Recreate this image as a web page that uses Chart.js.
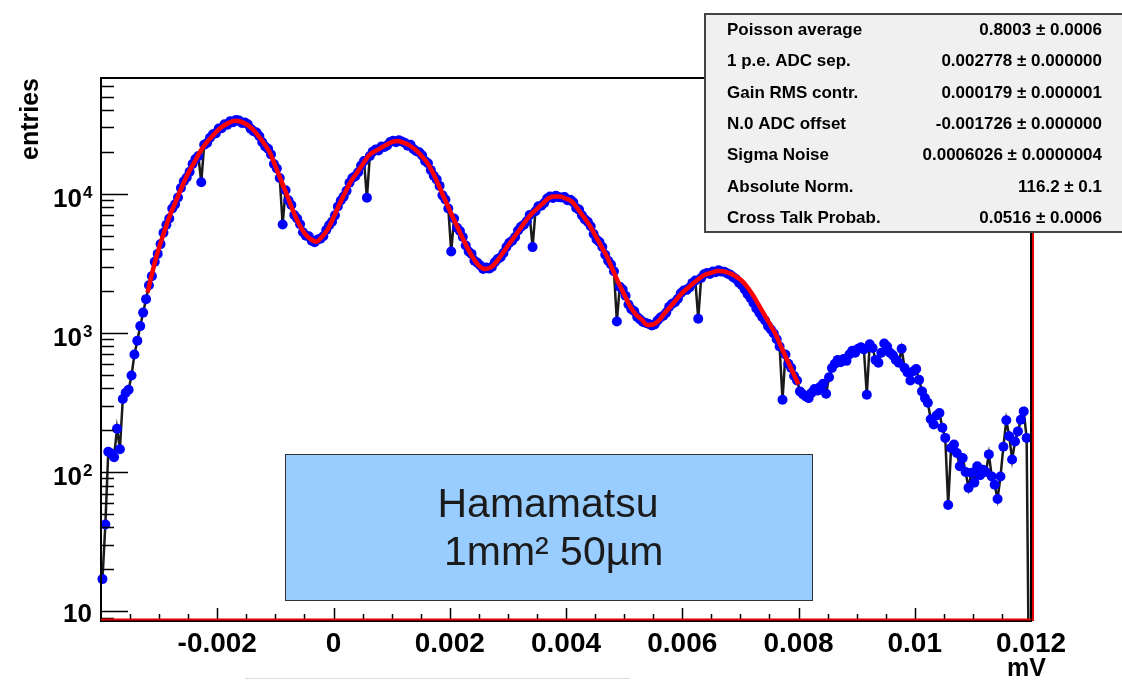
<!DOCTYPE html>
<html lang="en">
<head>
<meta charset="UTF-8">
<title>Hamamatsu 1mm2 50um - fitted photoelectron spectrum</title>
<script src="https://cdn.jsdelivr.net/npm/chart.js"></script>
<style>
    body { margin: 0; background: #ffffff; }
    #wrap { width: 1122px; height: 680px; position: relative; }
</style>
</head>
<body>
<div id="wrap"><canvas id="spectrum" width="1122" height="680"></canvas></div>
<script>
// histogram binning in mV
const binLow = -0.004;
const binWidth = 0.00005;

// entries per bin (log scale)
const entries = [
    17, 42, 140, 136, 128, 205, 146, 335, 372, 390,
    495, 700, 880, 1120, 1400, 1750, 2200, 2560, 3250, 3700,
    4350, 5250, 6000, 6650, 7850, 8400, 9400, 11000, 12300, 13100,
    14400, 16400, 17800, 18700, 12100, 22500, 23200, 25300, 26800, 27200,
    29500, 29600, 31600, 31400, 33300, 32700, 34000, 33600, 32300, 32500,
    31600, 29400, 28200, 27600, 25900, 23500, 21900, 21100, 19200, 16400,
    15200, 13000, 6020, 10600, 9000, 8300, 7050, 6650, 6050, 5300,
    5000, 4950, 4600, 4480, 4700, 4750, 4950, 5500, 5950, 6300,
    7000, 8100, 8950, 9550, 10500, 12000, 13000, 13400, 14300, 16000,
    17200, 9360, 18700, 20100, 20800, 20500, 21900, 21700, 22300, 23600,
    24100, 23500, 24300, 23800, 23300, 22200, 22500, 21000, 20200, 19900,
    18900, 17200, 16600, 14800, 13500, 12700, 11400, 9750, 9100, 7850,
    3850, 6650, 5700, 5400, 4900, 4250, 3850, 3700, 3300, 3200,
    3050, 2880, 2950, 2900, 2980, 3220, 3400, 3500, 3750, 4150,
    4450, 4600, 4900, 5450, 5800, 6000, 6350, 7050, 4140, 7500,
    8150, 8200, 8600, 9250, 9550, 9350, 9700, 9450, 9400, 9500,
    9000, 9050, 8700, 7900, 7700, 7000, 6550, 6300, 5850, 5150,
    4700, 4500, 4150, 3650, 3300, 3100, 2780, 1210, 2150, 2050,
    1850, 1600, 1480, 1430, 1300, 1250, 1200, 1180, 1160, 1130,
    1150, 1230, 1290, 1330, 1400, 1540, 1620, 1660, 1760, 1930,
    2020, 2040, 2120, 2290, 2380, 1265, 2480, 2640, 2700, 2650,
    2760, 2730, 2820, 2760, 2750, 2680, 2620, 2520, 2440, 2300,
    2200, 2050, 1900, 1780, 1640, 1500, 1400, 1300, 1230, 1120,
    1060, 990, 900, 800, 331, 700, 600, 560, 490, 455,
    380, 362, 350, 340, 372, 395, 385, 410, 432, 365,
    480, 560, 600, 640, 615, 650, 630, 700, 745, 720,
    770, 790, 760, 360, 830, 780, 640, 610, 720, 840,
    800, 720, 690, 640, 610, 770, 560, 520, 455, 530,
    550, 460, 380, 340, 315, 240, 220, 255, 266, 208,
    176, 58, 149, 158, 137, 110, 126, 100, 77, 99,
    84, 110, 95, 104, 100, 134, 93, 81, 64, 93,
    152, 236, 181, 123, 166, 196, 238, 273, 176, 1
];

// fitted function, sampled every 0.0001 mV from -0.0032 to 0.008
const fitLow = -0.0032;
const fitStep = 0.0001;
const fitValues = [
    1950, 2910, 4120, 5510, 7260, 9080, 11430, 14060, 16710, 19910,
    22960, 25530, 28380, 30620, 32360, 33500, 33110, 31620, 29380, 26300,
    23170, 19950, 15850, 12450, 9770, 7600, 6140, 5220, 4740, 4520,
    4900, 5550, 6760, 8370, 10210, 12300, 14130, 16260, 18710, 20090,
    21180, 22390, 23500, 23990, 23330, 22390, 20890, 19050, 16980, 14450,
    11750, 9440, 7590, 6170, 5010, 4120, 3470, 3050, 2880, 2950,
    3240, 3690, 4230, 4830, 5520, 6310, 7130, 7800, 8510, 9290,
    9550, 9550, 9230, 8810, 7830, 6850, 6000, 5050, 4250, 3570,
    2870, 2310, 1900, 1560, 1360, 1250, 1140, 1150, 1230, 1390,
    1550, 1740, 1940, 2110, 2290, 2480, 2630, 2700, 2790, 2780,
    2700, 2580, 2420, 2190, 1910, 1630, 1380, 1170, 990, 798,
    646, 525, 427
];

const xTickValues = [-0.002, 0, 0.002, 0.004, 0.006, 0.008, 0.01, 0.012];
const xTickLabels = ['-0.002', '0', '0.002', '0.004', '0.006', '0.008', '0.01', '0.012'];
const yTickValues = [10, 100, 1000, 10000];
const yTickPowers = ['', '2', '3', '4'];

const statNames = ['Poisson average', '1 p.e. ADC sep.', 'Gain RMS contr.', 'N.0 ADC offset',
    'Sigma Noise', 'Absolute Norm.', 'Cross Talk Probab.'];
const statValues = ['0.8003 \u00b1 0.0006', '0.002778 \u00b1 0.000000', '0.000179 \u00b1 0.000001',
    '-0.001726 \u00b1 0.000000', '0.0006026 \u00b1 0.0000004', '116.2 \u00b1 0.1', '0.0516 \u00b1 0.0006'];

const boxLines = ['Hamamatsu', ' 1mm\u00b2 50\u00b5m'];

const FONT = '"Liberation Sans", Arial, Helvetica, sans-serif';

// ROOT-like frame: ticks inside the frame, labels, stats box and caption box
const rootStyle = {
    id: 'rootStyle',
    afterDatasetsDraw(chart) {
        const { ctx, chartArea: a } = chart;
        const xs = chart.scales.x, ys = chart.scales.y;
        ctx.save();

        // y ticks (decades long, 2..9 short)
        ctx.strokeStyle = '#000';
        ctx.lineWidth = 1.5;
        ctx.beginPath();
        for (let d = 1; d <= 10000; d *= 10) {
            for (let m = 1; m <= 9; m++) {
                const v = m * d;
                if (v < ys.min || v > ys.max) continue;
                const py = Math.round(ys.getPixelForValue(v)) + 0.5;
                ctx.moveTo(a.left, py);
                ctx.lineTo(a.left + (m === 1 ? 27 : 13), py);
            }
        }
        // x ticks every 0.0005, longer every 0.002
        for (let i = 1; i < 32; i++) {
            const v = -0.004 + i * 0.0005;
            const px = Math.round(xs.getPixelForValue(v)) + 0.5;
            ctx.moveTo(px, a.bottom);
            ctx.lineTo(px, a.bottom - (i % 4 === 0 ? 13 : 7));
        }
        ctx.stroke();

        // frame
        ctx.lineWidth = 2;
        ctx.strokeRect(a.left, a.top, a.right - a.left, a.bottom - a.top);
        ctx.strokeStyle = '#e00000';
        ctx.beginPath();
        ctx.moveTo(a.left, a.bottom - 1.5);
        ctx.lineTo(a.right, a.bottom - 1.5);
        ctx.moveTo(a.right + 2, a.top);
        ctx.lineTo(a.right + 2, a.bottom);
        ctx.stroke();

        // x tick labels
        ctx.fillStyle = '#000';
        ctx.font = 'bold 28px ' + FONT;
        ctx.textAlign = 'center';
        ctx.textBaseline = 'alphabetic';
        xTickValues.forEach((v, i) => {
            ctx.fillText(xTickLabels[i], xs.getPixelForValue(v), a.bottom + 31);
        });

        // y tick labels 10^n
        yTickValues.forEach((v, i) => {
            const py = ys.getPixelForValue(v);
            if (yTickPowers[i] === '') {
                ctx.font = 'bold 26px ' + FONT;
                ctx.textAlign = 'right';
                ctx.fillText('10', 92, py + 11);
            } else {
                ctx.font = 'bold 26px ' + FONT;
                ctx.textAlign = 'right';
                ctx.fillText('10', 82, py + 13);
                ctx.font = 'bold 17px ' + FONT;
                ctx.textAlign = 'left';
                ctx.fillText(yTickPowers[i], 83, py + 4);
            }
        });

        // axis titles
        ctx.font = 'bold 25px ' + FONT;
        ctx.textAlign = 'right';
        ctx.fillText('mV', 1046, 676);
        ctx.save();
        ctx.translate(38, a.top);
        ctx.rotate(-Math.PI / 2);
        ctx.fillText('entries', 0, 0);
        ctx.restore();

        // caption box
        ctx.fillStyle = '#99ccff';
        ctx.fillRect(285, 454, 527, 146);
        ctx.strokeStyle = '#333';
        ctx.lineWidth = 1;
        ctx.strokeRect(285.5, 454.5, 527, 146);
        ctx.fillStyle = '#1b1b1b';
        ctx.font = '41px ' + FONT;
        ctx.textAlign = 'center';
        ctx.fillText(boxLines[0], 548, 517);
        ctx.fillText(boxLines[1], 548, 565);

        // stats box
        ctx.fillStyle = '#f0f0f0';
        ctx.fillRect(705, 14, 430, 218);
        ctx.strokeStyle = '#444';
        ctx.lineWidth = 2;
        ctx.strokeRect(705, 14, 430, 218);
        ctx.fillStyle = '#000';
        ctx.font = 'bold 17px ' + FONT;
        statNames.forEach((name, i) => {
            const y = 35 + i * 31.3;
            ctx.textAlign = 'left';
            ctx.fillText(name, 727, y);
            ctx.textAlign = 'right';
            ctx.fillText(statValues[i], 1102, y);
        });

        // faint stray line under the picture
        ctx.strokeStyle = '#dddddd';
        ctx.lineWidth = 1;
        ctx.beginPath();
        ctx.moveTo(245, 678.5);
        ctx.lineTo(630, 678.5);
        ctx.stroke();

        ctx.restore();
    }
};

const histPoints = entries.map((v, i) => ({ x: binLow + (i + 0.5) * binWidth, y: v }));
const fitPoints = fitValues.map((v, k) => ({ x: fitLow + k * fitStep, y: v }));

new Chart(document.getElementById('spectrum'), {
    type: 'line',
    data: {
        datasets: [
            {
                label: 'fit',
                data: fitPoints,
                borderColor: '#ff0000',
                borderWidth: 4.5,
                pointRadius: 0,
                cubicInterpolationMode: 'monotone',
                order: 0
            },
            {
                label: 'entries',
                data: histPoints,
                borderColor: '#1a1a1a',
                borderWidth: 2.5,
                pointRadius: 5,
                pointBackgroundColor: '#0000ff',
                pointBorderWidth: 0,
                tension: 0,
                order: 1,
                clip: { left: 6, top: 0, right: 0, bottom: 0 }
            }
        ]
    },
    options: {
        responsive: false,
        animation: false,
        layout: { padding: { left: 101, right: 91, top: 78, bottom: 59 } },
        plugins: {
            legend: { display: false },
            tooltip: { enabled: false }
        },
        scales: {
            x: { type: 'linear', min: -0.004, max: 0.012, display: false },
            y: { type: 'logarithmic', min: 8.5, max: 68000, display: false }
        }
    },
    plugins: [rootStyle]
});
</script>
</body>
</html>
